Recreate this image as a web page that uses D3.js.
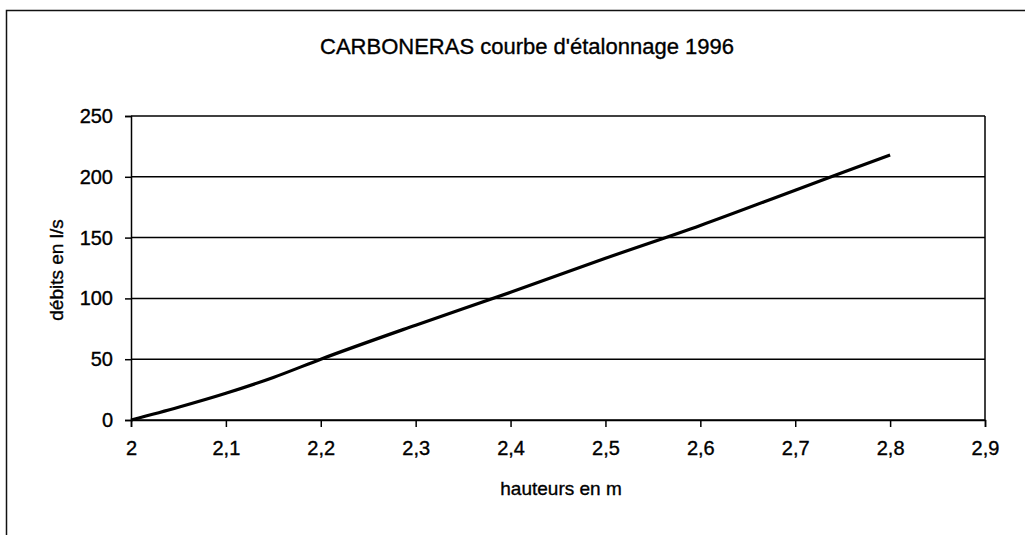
<!DOCTYPE html>
<html>
<head>
<meta charset="utf-8">
<script src="https://cdn.jsdelivr.net/npm/d3@7"></script>
<style>
  body { margin: 0; background: #fff; }
  svg text { font-family: "Liberation Sans", Arial, sans-serif; fill: #000; stroke: #000; stroke-width: 0.35px; }
</style>
</head>
<body>
<svg id="chart" width="1025" height="535"></svg>
<script>
// hauteurs (m) et débits (l/s)
const hauteurs = [2.0, 2.05, 2.1, 2.15, 2.2, 2.3, 2.4, 2.5, 2.6, 2.7, 2.8]
const debits = [0, 10.5, 22, 35, 50, 78, 105, 133, 160, 189, 218]
const xTicks = [2, 2.1, 2.2, 2.3, 2.4, 2.5, 2.6, 2.7, 2.8, 2.9]
const yTicks = [0, 50, 100, 150, 200, 250]

let svg = d3.select('#chart')
let marge = { top: 116, left: 131, right: 985, bottom: 420 }

// cadre (seulement haut et gauche visibles sur le scan)
svg.append('path')
  .attr('d', 'M6.5,535 V10.5 H1025')
  .attr('fill', 'none')
  .attr('stroke', '#111')
  .attr('stroke-width', 1.5)

svg.append('text')
  .attr('x', 527).attr('y', 54)
  .attr('text-anchor', 'middle')
  .style('font-size', '22px')
  .text("CARBONERAS courbe d'étalonnage 1996")

let x = d3.scaleLinear().domain([2, 2.9]).range([marge.left, marge.right])
let y = d3.scaleLinear().domain([0, 250]).range([marge.bottom, marge.top])

// lignes de quadrillage
svg.append('g')
  .selectAll('line')
  .data(yTicks)
  .enter()
  .append('line')
  .attr('x1', marge.left).attr('x2', marge.right)
  .attr('y1', d => y(d)).attr('y2', d => y(d))
  .attr('stroke', '#000')
  .attr('stroke-width', 1.5)

// bord droit de la zone de tracé
svg.append('line')
  .attr('x1', marge.right).attr('x2', marge.right)
  .attr('y1', marge.top).attr('y2', marge.bottom)
  .attr('stroke', '#000').attr('stroke-width', 1.5)

let fmt = d => String(+d.toFixed(1)).replace('.', ',')

let xAxis = d3.axisBottom(x).tickValues(xTicks).tickSize(7).tickPadding(14).tickFormat(fmt)
let gx = svg.append('g').attr('transform', `translate(0,${marge.bottom})`).call(xAxis)

let yAxis = d3.axisLeft(y).tickValues(yTicks).tickSize(6).tickPadding(12)
let gy = svg.append('g').attr('transform', `translate(${marge.left},0)`).call(yAxis)

;[gx, gy].forEach(g => {
  g.select('.domain').attr('stroke', '#000').attr('stroke-width', 1.5)
  g.selectAll('.tick line').attr('stroke', '#000').attr('stroke-width', 1.5)
  g.selectAll('.tick text')
    .style('font-size', '20px')
    .style('font-family', '"Liberation Sans", Arial, sans-serif')
    .attr('fill', '#000')
})

svg.append('text')
  .attr('x', 561).attr('y', 495)
  .attr('text-anchor', 'middle')
  .style('font-size', '19px')
  .text('hauteurs en m')

svg.append('text')
  .attr('transform', 'translate(63,270) rotate(-90)')
  .attr('text-anchor', 'middle')
  .style('font-size', '19px')
  .text('débits en l/s')

// courbe de tarage
let courbe = d3.line()
  .x((d, i) => x(hauteurs[i]))
  .y(d => y(d))
  .curve(d3.curveMonotoneX)

svg.append('path')
  .datum(debits)
  .attr('d', courbe)
  .attr('fill', 'none')
  .attr('stroke', '#000')
  .attr('stroke-width', 3.2)
</script>
</body>
</html>
